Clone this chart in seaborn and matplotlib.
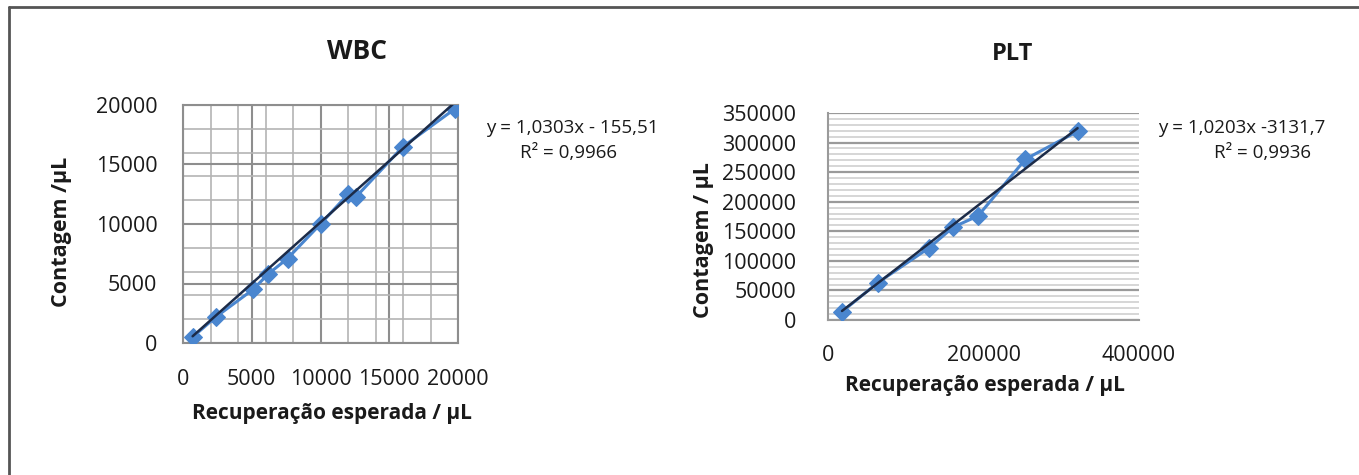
import numpy as np
import pandas as pd
import matplotlib
matplotlib.use("Agg")
import matplotlib.pyplot as plt
from matplotlib.lines import Line2D
from matplotlib.ticker import MultipleLocator
import seaborn as sns

# Linearity data: expected recovery vs measured count (per µL)
wbc_expected = [700, 2400, 5100, 6200, 7600, 10000, 12000, 12600, 16000, 19800]
wbc_count = [500, 2200, 4500, 5800, 7100, 10000, 12500, 12300, 16500, 19700]
wbc_slope, wbc_intercept, wbc_r2 = 1.0303, -155.51, 0.9966

plt_expected = [18000, 64000, 130000, 161000, 193000, 254000, 321000]
plt_count = [14000, 63000, 122000, 157000, 176000, 272000, 319000]
plt_slope, plt_intercept, plt_r2 = 1.0203, -3131.7, 0.9936

wbc_xticks = [0, 5000, 10000, 15000, 20000]
wbc_yticks = [0, 5000, 10000, 15000, 20000]
plt_xticks = [0, 200000, 400000]
plt_yticks = [0, 50000, 100000, 150000, 200000, 250000, 300000, 350000]

xlabel = "Recuperação esperada / μL"

W, H = 1359, 475
sns.set_theme(style="white")
plt.rcParams["font.family"] = ["Open Sans", "DejaVu Sans"]

SERIES = "#4a86cf"
TREND = "#1c2b48"
TEXT = "#1a1a1a"

fig = plt.figure(figsize=(W / 100, H / 100), dpi=100)


def px_axes(left, top, right, bottom):
    return fig.add_axes([left / W, 1 - bottom / H, (right - left) / W, (bottom - top) / H])


def comma(v, nd):
    return f"{v:.{nd}f}".replace(".", ",")


def draw(ax, xs, ys, slope, intercept):
    df = pd.DataFrame({"x": xs, "y": ys})
    sns.lineplot(data=df, x="x", y="y", ax=ax, color=SERIES, lw=2.2,
                 marker="D", markersize=9.5, markeredgecolor=SERIES,
                 markerfacecolor=SERIES, zorder=3)
    xfit = np.array([min(xs), max(xs)])
    ax.plot(xfit, slope * xfit + intercept, color=TREND, lw=1.8, zorder=4)
    ax.set_ylabel("")
    ax.set_xlabel("")


# ---------------- WBC ----------------
ax1 = px_axes(183, 105, 458, 343)
draw(ax1, wbc_expected, wbc_count, wbc_slope, wbc_intercept)
ax1.set_xlim(0, 20000)
ax1.set_ylim(0, 20000)
ax1.set_xticks(wbc_xticks)
ax1.set_yticks(wbc_yticks)
ax1.xaxis.set_minor_locator(MultipleLocator(2000))
ax1.yaxis.set_minor_locator(MultipleLocator(2000))
ax1.grid(which="major", color="#8e8e8e", lw=1.5, zorder=0)
ax1.grid(which="minor", color="#b4b4b4", lw=1.2, zorder=0)
ax1.set_axisbelow(True)
for s in ax1.spines.values():
    s.set_color("#8e8e8e")
    s.set_linewidth(1.5)
ax1.tick_params(which="major", direction="out", length=7.5, width=1.5,
                color="#8e8e8e", labelsize=15.5, labelcolor=TEXT, pad=11)
ax1.tick_params(axis="y", pad=11)
ax1.tick_params(which="minor", length=0)
ax1.set_title("WBC", fontsize=19, fontweight="bold", color=TEXT, va="center",
              x=(357 - 183) / 275, y=(343 - 60) / 238)
ax1.set_xlabel(xlabel, fontsize=15, fontweight="bold", color=TEXT, va="center")
ax1.xaxis.set_label_coords((332 - 183) / 275, (343 - 413) / 238)
ax1.set_ylabel("Contagem /μL", fontsize=15.5, fontweight="bold", color=TEXT, va="center")
ax1.yaxis.set_label_coords((61 - 183) / 275, (343 - 232) / 238)

fig.text(572 / W, 1 - 128 / H,
         f"y = {comma(wbc_slope, 4)}x - {comma(abs(wbc_intercept), 2)}",
         fontsize=13.5, color=TEXT, ha="center", va="center")
fig.text(569 / W, 1 - 153 / H, f"R² = {comma(wbc_r2, 4)}",
         fontsize=13.5, color=TEXT, ha="center", va="center")

# ---------------- PLT ----------------
ax2 = px_axes(828, 113, 1139, 320)
draw(ax2, plt_expected, plt_count, plt_slope, plt_intercept)
ax2.set_xlim(0, 400000)
ax2.set_ylim(0, 350000)
ax2.set_xticks(plt_xticks)
ax2.set_yticks(plt_yticks)
ax2.yaxis.set_minor_locator(MultipleLocator(10000))
ax2.grid(which="major", axis="y", color="#9a9a9a", lw=1.6, zorder=0)
ax2.grid(which="minor", axis="y", color="#cfcfcf", lw=1.2, zorder=0)
ax2.grid(which="major", axis="x", visible=False)
ax2.set_axisbelow(True)
for side in ("top", "right"):
    ax2.spines[side].set_visible(False)
for side in ("left", "bottom"):
    ax2.spines[side].set_color("#9a9a9a")
    ax2.spines[side].set_linewidth(1.5)
ax2.tick_params(which="major", direction="out", length=5, width=1.5,
                color="#9a9a9a", labelsize=15.5, labelcolor=TEXT, pad=18)
ax2.tick_params(axis="x", length=6, pad=12)
ax2.tick_params(which="minor", length=0)
ax2.set_title("PLT", fontsize=17, fontweight="bold", color=TEXT, va="center",
              x=(1013 - 828) / 311, y=(320 - 62) / 207)
ax2.set_xlabel(xlabel, fontsize=15, fontweight="bold", color=TEXT, va="center")
ax2.xaxis.set_label_coords((985 - 828) / 311, (320 - 386) / 207)
ax2.set_ylabel("Contagem / μL", fontsize=15.5, fontweight="bold", color=TEXT, va="center")
ax2.yaxis.set_label_coords((703 - 828) / 311, (320 - 240) / 207)

fig.text(1242 / W, 1 - 128 / H,
         f"y = {comma(plt_slope, 4)}x -{comma(abs(plt_intercept), 1)}",
         fontsize=13.5, color=TEXT, ha="center", va="center")
fig.text(1263 / W, 1 - 153 / H, f"R² = {comma(plt_r2, 4)}",
         fontsize=13.5, color=TEXT, ha="center", va="center")

# outer frame (top and left edges)
fig.add_artist(Line2D([9 / W, 9 / W], [0, 1 - 7 / H], transform=fig.transFigure,
                      color="#555555", lw=2))
fig.add_artist(Line2D([9 / W, 1], [1 - 7 / H, 1 - 7 / H], transform=fig.transFigure,
                      color="#555555", lw=2))

fig.savefig("out.png", dpi=100, facecolor="white")
